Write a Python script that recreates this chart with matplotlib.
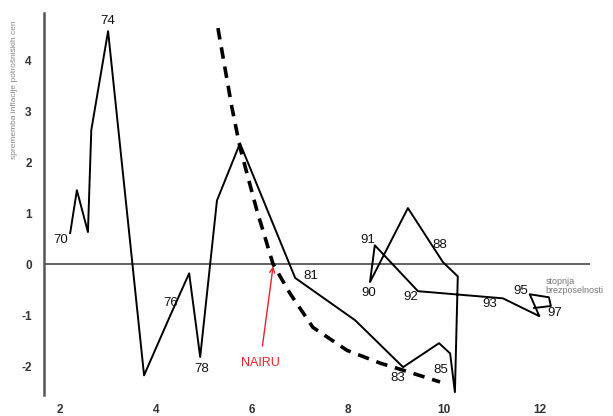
import matplotlib.pyplot as plt

plt.rcParams['font.family'] = ['Liberation Sans', 'DejaVu Sans']
plt.rcParams['axes.unicode_minus'] = False

# Phillipsova krivulja - podatki odčitani s slike
leta = [70, 71, 72, 73, 74, 75, 76, 77, 78, 79, 80, 81, 82, 83, 84, 85,
        86, 87, 88, 89, 90, 91, 92, 93, 94, 95, 96, 97, 98]
brezposelnost = [2.21, 2.35, 2.58, 2.65, 3.00, 3.75, 4.29, 4.69, 4.92, 5.27,
                 5.75, 6.90, 8.15, 9.15, 9.90, 10.13, 10.23, 10.29, 9.98,
                 9.25, 8.46, 8.56, 9.46, 11.23, 11.99, 11.79, 12.19, 12.23, 11.88]
inflacija = [0.61, 1.45, 0.63, 2.63, 4.57, -2.18, -1.02, -0.18, -1.82, 1.25,
             2.37, -0.27, -1.10, -2.02, -1.55, -1.75, -2.51, -0.24, 0.04,
             1.10, -0.35, 0.37, -0.53, -0.67, -1.02, -0.59, -0.65, -0.82, -0.86]

# dolgoročna krivulja (črtkano)
krivulja_x = [5.29, 5.58, 5.75, 6.10, 6.44, 6.79, 7.27, 7.98, 8.67, 9.15, 9.92]
krivulja_y = [4.63, 3.08, 2.29, 1.06, 0.0, -0.57, -1.24, -1.69, -1.94, -2.08, -2.31]

# oznake let: (besedilo, x, y)
oznake = [("70", 2.02, 0.47), ("74", 3.0, 4.77), ("76", 4.31, -0.77),
          ("78", 4.96, -2.06), ("81", 7.23, -0.24), ("83", 9.03, -2.24),
          ("85", 9.94, -2.08), ("88", 9.92, 0.37), ("90", 8.44, -0.57),
          ("91", 8.42, 0.47), ("92", 9.31, -0.65), ("93", 10.96, -0.78),
          ("95", 11.60, -0.53), ("97", 12.32, -0.96)]

xticks = [2, 4, 6, 8, 10, 12]
yticks = [-2, -1, 0, 1, 2, 3, 4]

fig = plt.figure(figsize=(6.13, 4.16), dpi=100)
ax = fig.add_axes([0.072, 0.05, 0.89, 0.918])

ax.axhline(0, color='#555555', lw=1.3, zorder=1)
ax.plot(brezposelnost, inflacija, color='black', lw=1.4, zorder=3)
ax.plot(krivulja_x, krivulja_y, color='black', lw=2.6, ls=(0, (3.2, 2.2)), zorder=2)

for t, x, y in oznake:
    ax.text(x, y, t, fontsize=9.5, ha='center', va='center', color='#111111')

ax.annotate("NAIRU", xy=(6.44, -0.04), xytext=(6.17, -1.94),
            fontsize=9, color='#e8202a', ha='center', va='center',
            arrowprops=dict(arrowstyle='->', color='#e8202a', lw=1,
                            shrinkA=6, shrinkB=0))

ax.text(12.12, -0.43, "stopnja\nbrezposelnosti", fontsize=6.5, color='#777777',
        ha='left', va='center', linespacing=1.1)

ax.set_xlim(1.667, 13.04)
ax.set_ylim(-2.57, 4.92)
ax.set_xticks(xticks)
ax.set_yticks(yticks)
ax.tick_params(length=0, labelsize=8.5, colors='#333333')
ax.tick_params(axis='y', pad=9)
ax.tick_params(axis='x', pad=6)
for lab in ax.get_xticklabels() + ax.get_yticklabels():
    lab.set_fontweight('bold')

ax.set_ylabel("sprememba inflacije potrošniških cen", fontsize=6, color='#888888')
ax.yaxis.set_label_coords(-0.048, 0.80)

for s in ['top', 'right', 'bottom']:
    ax.spines[s].set_visible(False)
ax.spines['left'].set_color('#555555')
ax.spines['left'].set_linewidth(1.8)

fig.savefig("out.png", dpi=100)
